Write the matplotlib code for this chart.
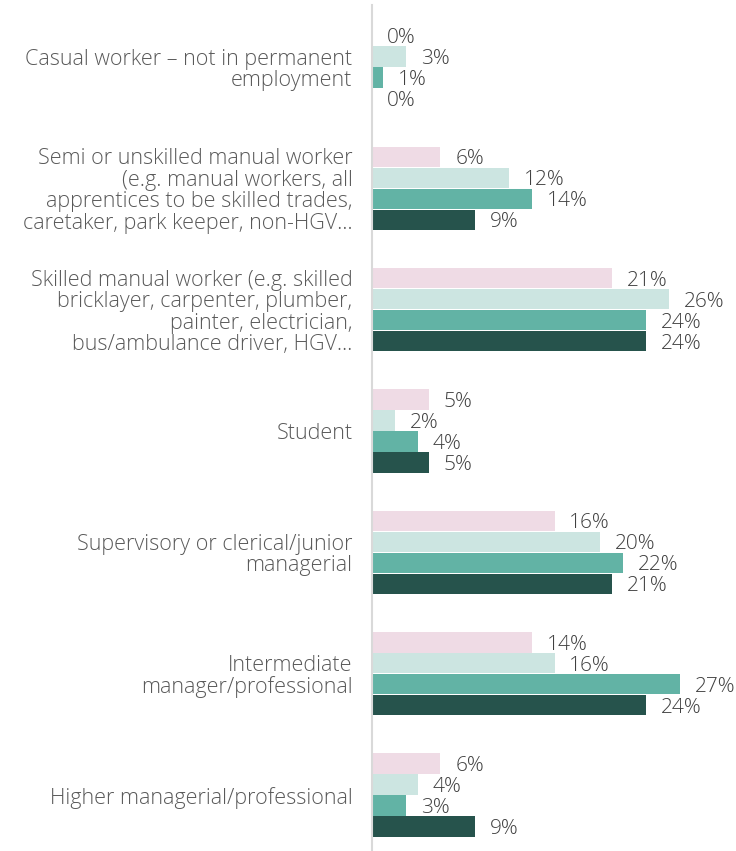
import matplotlib
matplotlib.use("Agg")
from matplotlib import pyplot as plt
import numpy as np

categories = [
    "Casual worker \u2013 not in permanent\nemployment",
    "Semi or unskilled manual worker\n(e.g. manual workers, all\napprentices to be skilled trades,\ncaretaker, park keeper, non-HGV\u2026",
    "Skilled manual worker (e.g. skilled\nbricklayer, carpenter, plumber,\npainter, electrician,\nbus/ambulance driver, HGV\u2026",
    "Student",
    "Supervisory or clerical/junior\nmanagerial",
    "Intermediate\nmanager/professional",
    "Higher managerial/professional",
]

# one list per respondent group, in bar order (top to bottom inside each category)
series_1 = [0, 6, 21, 5, 16, 14, 6]
series_2 = [3, 12, 26, 2, 20, 16, 4]
series_3 = [1, 14, 24, 4, 22, 27, 3]
series_4 = [0, 9, 24, 5, 21, 24, 9]

colors = ["#efdbe5", "#cce5e1", "#62b3a5", "#26534c"]

plt.rcParams["font.family"] = ["Open Sans", "DejaVu Sans"]

fig = plt.figure(figsize=(7.36, 8.51), dpi=100)
ax = fig.add_axes([0.5054, 0.0, 0.4946, 0.994])

y = np.arange(len(categories))
h = 0.173
for k, (vals, col) in enumerate(zip([series_1, series_2, series_3, series_4], colors)):
    pos = y + (k - 1.5) * h
    ax.barh(pos, vals, height=h * 0.97, color=col)
    for p, v in zip(pos, vals):
        ax.text(v + 1.3, p + 0.02, f"{v}%", va="center", ha="left",
                fontsize=15, color="#404040", fontweight="light")

ax.set_ylim(6.46, -0.51)
ax.set_xlim(0, 31.9)
ax.set_yticks(y)
ax.set_yticklabels(categories, fontsize=15.5, color="#595959", linespacing=1.03,
                   fontweight="light")
ax.tick_params(axis="y", length=0, pad=14)
ax.set_xticks([])
for s in ["top", "right", "bottom"]:
    ax.spines[s].set_visible(False)
ax.spines["left"].set_color("#d9d9d9")
ax.spines["left"].set_linewidth(1.5)

fig.savefig("out.png", dpi=100)
